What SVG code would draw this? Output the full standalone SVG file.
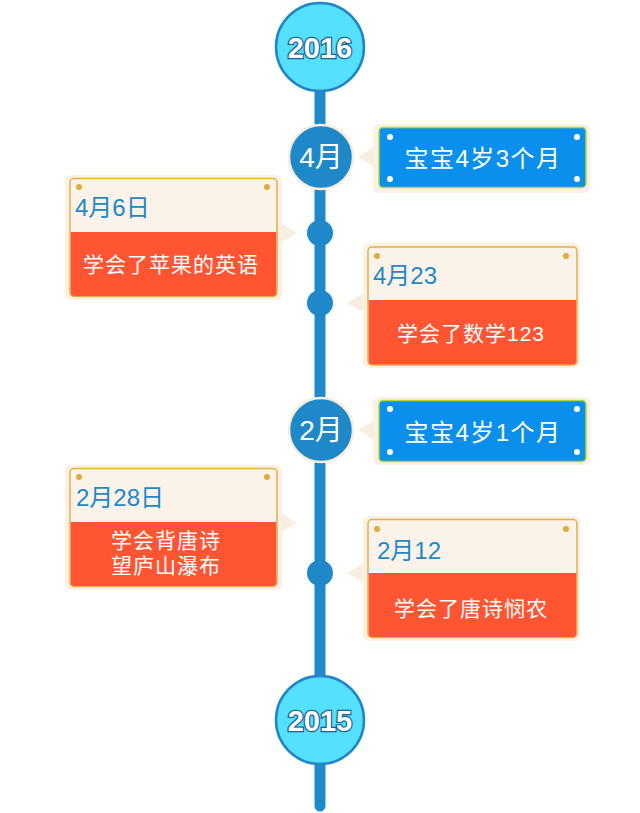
<svg xmlns="http://www.w3.org/2000/svg" width="640" height="813" viewBox="0 0 640 813">
<style>
text{font-family:"Liberation Sans","Noto Sans CJK SC",sans-serif}
.frame{fill:#faf1e4}
.blue{fill:#0a90ec;stroke:#b3d83a;stroke-width:1.5}
.card{fill:#fbf3e9;stroke:#dfb046;stroke-width:1.5}
.red{fill:#ff5533}
.gdot{fill:#dcac42}
.wdot{fill:#ffffff}
.year{fill:#55e0ff;stroke:#1f86c6;stroke-width:2.5}
.yt{font-size:29px;font-weight:bold;fill:#ffffff;stroke:#1a5f94;stroke-width:2.5;paint-order:stroke;text-anchor:middle}
.month{fill:#1e88c8;stroke:#f6ecdc;stroke-width:2.5}
.mt{font-size:28px;fill:#ffffff;text-anchor:middle}
.bt{font-size:24px;fill:#ffffff;text-anchor:middle;letter-spacing:1.5px}
.dt{font-size:24px;fill:#1e88c8}
.rt{font-size:21px;fill:#ffffff;letter-spacing:1px}
.dot{fill:#1e88c8}
.ptr{fill:#f9efe1}
</style>
<g id="connectors">
<line x1="320" y1="90" x2="320" y2="806" stroke="#1e88c8" stroke-width="11" stroke-linecap="round"/>
<circle class="dot" cx="320" cy="233" r="13"/>
<circle class="dot" cx="320" cy="303" r="13"/>
<circle class="dot" cx="320" cy="573" r="13"/>
</g>
<g id="y2016">
<circle class="year" cx="320" cy="47" r="44"/>
<text class="yt" x="320" y="58">2016</text>
</g>
<g id="m4">
<circle class="month" cx="321" cy="157" r="32"/>
<text class="mt" x="321" y="167">4月</text>
</g>
<g id="b1">
<polygon class="ptr" points="358,157 374,147 374,167"/>
<rect class="frame" x="373" y="124" width="217" height="69" rx="6"/>
<rect class="blue" x="379" y="127.5" width="207" height="60" rx="4"/>
<circle class="wdot" cx="390" cy="137" r="3"/><circle class="wdot" cx="577" cy="137" r="3"/>
<circle class="wdot" cx="390" cy="179" r="3"/><circle class="wdot" cx="577" cy="179" r="3"/>
<text class="bt" x="483" y="167">宝宝4岁3个月</text>
</g>
<g id="c1">
<polygon class="ptr" points="297,233 281,223 281,243"/>
<rect class="frame" x="65" y="175" width="217" height="125" rx="6"/>
<rect class="card" x="70" y="178.5" width="207" height="118" rx="4"/>
<path class="red" d="M70.75,232 H276.25 V292.5 a3.5,3.5 0 0 1 -3.5,3.5 H74.25 a3.5,3.5 0 0 1 -3.5,-3.5 Z"/>
<circle class="gdot" cx="79" cy="187" r="3"/><circle class="gdot" cx="267" cy="187" r="3"/>
<text class="dt" x="75" y="216">4月6日</text>
<text class="rt" x="171" y="272" text-anchor="middle">学会了苹果的英语</text>
</g>
<g id="c2">
<polygon class="ptr" points="347,303 364,293 364,313"/>
<rect class="frame" x="363" y="243" width="217" height="125" rx="6"/>
<rect class="card" x="368" y="247" width="209" height="118" rx="4"/>
<path class="red" d="M368.75,300 H576.25 V361 a3.5,3.5 0 0 1 -3.5,3.5 H372.25 a3.5,3.5 0 0 1 -3.5,-3.5 Z"/>
<circle class="gdot" cx="377" cy="256" r="3"/><circle class="gdot" cx="566" cy="256" r="3"/>
<text class="dt" x="373" y="284">4月23</text>
<text class="rt" x="471" y="341" text-anchor="middle">学会了数学123</text>
</g>
<g id="m2">
<circle class="month" cx="321" cy="430" r="32"/>
<text class="mt" x="321" y="440">2月</text>
</g>
<g id="b2">
<polygon class="ptr" points="358,430 374,420 374,440"/>
<rect class="frame" x="373" y="397" width="217" height="68" rx="6"/>
<rect class="blue" x="379" y="400.5" width="207" height="61" rx="4"/>
<circle class="wdot" cx="390" cy="409" r="3"/><circle class="wdot" cx="577" cy="409" r="3"/>
<circle class="wdot" cx="390" cy="452" r="3"/><circle class="wdot" cx="577" cy="452" r="3"/>
<text class="bt" x="483" y="441">宝宝4岁1个月</text>
</g>
<g id="c3">
<polygon class="ptr" points="297,523 281,513 281,533"/>
<rect class="frame" x="65" y="465" width="217" height="125" rx="6"/>
<rect class="card" x="70" y="468.5" width="207" height="118" rx="4"/>
<path class="red" d="M70.75,522 H276.25 V582.5 a3.5,3.5 0 0 1 -3.5,3.5 H74.25 a3.5,3.5 0 0 1 -3.5,-3.5 Z"/>
<circle class="gdot" cx="79" cy="477" r="3"/><circle class="gdot" cx="267" cy="477" r="3"/>
<text class="dt" x="76" y="506">2月28日</text>
<text class="rt" x="111" y="548">学会背唐诗</text>
<text class="rt" x="111" y="573">望庐山瀑布</text>
</g>
<g id="c4">
<polygon class="ptr" points="347,573 364,563 364,583"/>
<rect class="frame" x="363" y="516" width="217" height="125" rx="6"/>
<rect class="card" x="368" y="519.5" width="209" height="118" rx="4"/>
<path class="red" d="M368.75,573 H576.25 V633.5 a3.5,3.5 0 0 1 -3.5,3.5 H372.25 a3.5,3.5 0 0 1 -3.5,-3.5 Z"/>
<circle class="gdot" cx="377" cy="529" r="3"/><circle class="gdot" cx="566" cy="529" r="3"/>
<text class="dt" x="377" y="559">2月12</text>
<text class="rt" x="471" y="616" text-anchor="middle">学会了唐诗悯农</text>
</g>
<g id="y2015">
<circle class="year" cx="320" cy="720" r="44"/>
<text class="yt" x="320" y="731">2015</text>
</g>
</svg>
